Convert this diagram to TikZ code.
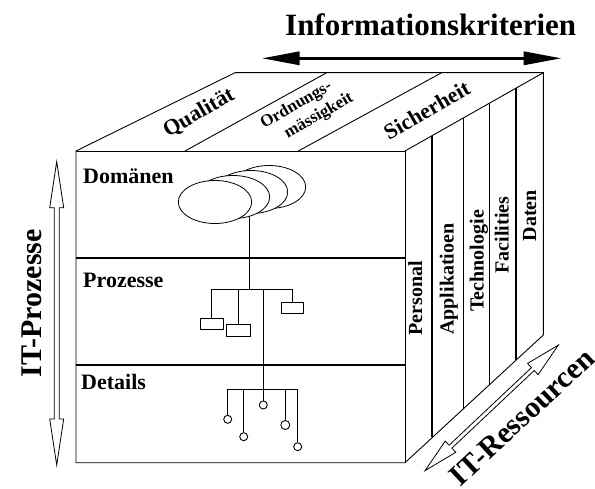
\documentclass[tikz,border=0pt]{standalone}
\usepackage{fontspec}
\setmainfont{Liberation Serif}
\usetikzlibrary{arrows.meta,backgrounds,calc,shapes.geometric}

% hollow double-headed arrow: start tip, angle, length, head length, head half width, shaft half width
\newcommand{\twinarrow}[6]{%
  \draw[hollow, shift={(#1)}, rotate=#2]
    (0,0) -- (#4,#5) -- (#4,#6) -- ({#3-#4},#6) -- ({#3-#4},#5) -- (#3,0)
    -- ({#3-#4},-#5) -- ({#3-#4},-#6) -- (#4,-#6) -- (#4,-#5) -- cycle;}

\begin{document}
\begin{tikzpicture}[x=1pt,y=-1pt,
  edge/.style={line width=0.9pt, line join=miter},
  layer/.style={line width=1.6pt},
  resthick/.style={line width=1.8pt},
  resmid/.style={line width=1.3pt},
  resthin/.style={line width=0.9pt},
  wire/.style={line width=0.9pt},
  hollow/.style={line width=0.8pt, fill=white, line join=miter},
  cloud/.style={ellipse, draw, line width=0.8pt, fill=white, inner sep=0pt,
    minimum width=73.4pt, minimum height=43pt},
  leafbox/.style={rectangle, draw, line width=0.9pt, fill=white, inner sep=0pt},
  leafdot/.style={circle, draw, line width=0.9pt, fill=white, inner sep=0pt, minimum size=8pt},
  frontlbl/.style={font=\bfseries\fontsize{22}{24}\selectfont, inner sep=0pt, anchor=base west},
  toplbl/.style={font=\bfseries\fontsize{22}{24}\selectfont, inner sep=0pt, rotate=30},
  smalltop/.style={font=\bfseries\fontsize{17}{19}\selectfont, inner sep=0pt, rotate=30},
  reslbl/.style={font=\bfseries\fontsize{20}{22}\selectfont, inner sep=0pt, rotate=90, anchor=base},
  biglbl/.style={font=\bfseries\fontsize{30}{32}\selectfont, inner sep=0pt}
]
\useasboundingbox (0,0) rectangle (595,489);
\begin{pgfonlayer}{background}
  \fill[white] (0,0) rectangle (595,489);
\end{pgfonlayer}

% cube corners
\coordinate (FLt) at (76,151);
\coordinate (FRt) at (405,151);
\coordinate (FRb) at (405,462.7);
\coordinate (FLb) at (76,462.7);
\coordinate (BLt) at (235,72.7);
\coordinate (BRt) at (543.3,72.7);
\coordinate (BRb) at (543.3,335);

% cube outline
\draw[edge] (FLt) -- (BLt) -- (BRt) -- (BRb) -- (FRb) -- (FLb) -- cycle;
\draw[edge] (FLt) -- (FRt) -- (FRb);
\draw[edge] (FRt) -- (BRt);

% top face strips
\draw[edge] (185,151) -- (326.7,72.7);
\draw[edge] (298.3,151) -- (441.7,72.7);

% front face layers
\draw[layer] (76,258.3) -- (405,258.3);
\draw[layer] (76,365) -- (405,365);

% right face columns
\draw[resthick] ($(FRt)!0.1974!(BRt)$) -- ($(FRb)!0.1974!(BRb)$);
\draw[resmid]   ($(FRt)!0.4216!(BRt)$) -- ($(FRb)!0.4216!(BRb)$);
\draw[resthin]  ($(FRt)!0.6096!(BRt)$) -- ($(FRb)!0.6096!(BRb)$);
\draw[resthick] ($(FRt)!0.8048!(BRt)$) -- ($(FRb)!0.8048!(BRb)$);
\draw[resmid] (BRt) -- (BRb);

% domains
\node[cloud] (e4) at (269,187) {};
\node[cloud] (e3) at (251,192) {};
\node[cloud] (e2) at (233,197) {};
\node[cloud] (e1) at (215,202) {};

% processes
\coordinate (j1) at (249.3,289);
\coordinate (j2) at (263.3,289);
\node[leafbox, minimum width=23.3pt, minimum height=11pt] (b1) at (211.7,323.8) {};
\node[leafbox, minimum width=23.3pt, minimum height=11.7pt] (b2) at (238.3,330.2) {};
\node[leafbox, minimum width=21.7pt, minimum height=10.5pt] (b3) at (292.5,308) {};

% details
\coordinate (j3) at (263.3,389.3);
\node[leafdot] (c1) at (227.7,419.3) {};
\node[leafdot] (c2) at (243.7,436.7) {};
\node[leafdot] (c3) at (263.3,405) {};
\node[leafdot, minimum size=9pt] (c4) at (285.3,425) {};
\node[leafdot] (c5) at (297.7,446.7) {};

\begin{pgfonlayer}{background}
  \draw[wire] (e1.center -| j1) -- (j1);
\end{pgfonlayer}
\draw[wire] (b1.north) -- (b1.north |- j1) -- (b3.north |- j1) -- (b3.north);
\draw[wire] (b2.north) -- (b2.north |- j1);
\draw[wire] (j2) -- (c3.north);
\draw[wire] (c1.north) -- (c1.north |- j3) -- (c5.north |- j3) -- (c5.north);
\draw[wire] (c2.north) -- (c2.north |- j3);
\draw[wire] (c4.north) -- (c4.north |- j3);

% layer labels
\node[frontlbl] (dom) at (83,184) {Domänen};
\node[frontlbl] (pro) at (83,287.7) {Prozesse};
\node[frontlbl] (det) at (81,389.3) {Details};

% criteria labels
\node[toplbl] (qual) at (199,113) {Qualität};
\node[smalltop] (ord1) at (296.5,105.5) {Ordnungs-};
\node[smalltop] (ord2) at (319,116) {mässigkeit};
\node[toplbl] (sich) at (426.7,110) {Sicherheit};

% resource labels
\node[reslbl] (pers) at (422,298.3) {Personal};
\node[reslbl] (appl) at (453.5,279.2) {Applikatioen};
\node[reslbl] (tech) at (483.5,260.8) {Technologie};
\node[reslbl] (faci) at (508.5,235) {Facilities};
\node[reslbl] (date) at (536,215.8) {Daten};

% axis: information criteria
\node[biglbl, anchor=base west, font=\bfseries\fontsize{31}{33}\selectfont] (ik) at (285,36) {Informationskriterien};
\coordinate (ikl) at (261.7,58.3);
\coordinate (ikr) at (561.7,58.3);
\draw[line width=3.3pt, {Triangle[length=38pt,width=13pt]}-{Triangle[length=38pt,width=13pt]}] (ikl) -- (ikr);

% axis: IT processes
\coordinate (pzb) at (56.7,465);
\twinarrow{pzb}{90}{303.3}{46}{7}{2.5}
\node[biglbl, rotate=90, anchor=base] (pz) at (41.7,303.3) {IT-Prozesse};

% axis: IT resources
\coordinate (rsb) at (425,470.7);
\twinarrow{rsb}{43.3}{183.2}{35}{7.7}{2}
\node[biglbl, rotate=43] (rs) at (522,417) {IT-Ressourcen};
\end{tikzpicture}
\end{document}
